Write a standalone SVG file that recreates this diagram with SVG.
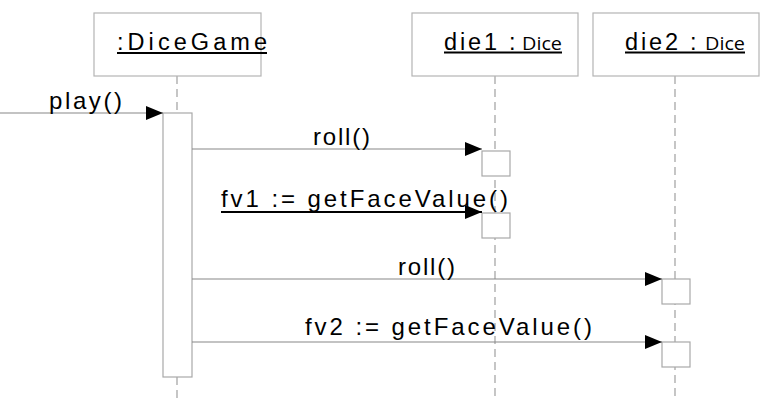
<svg xmlns="http://www.w3.org/2000/svg" width="772" height="400" viewBox="0 0 772 400">
<style>
.box{fill:#fff;stroke:#b4b4b4;stroke-width:1.2}
.act{fill:#fff;stroke:#a8a8a8;stroke-width:1.2}
.life{stroke:#a0a0a0;stroke-width:1.2;stroke-dasharray:8,5;fill:none}
.msg{stroke:#888;stroke-width:1.2;fill:none}
.t{font-family:"Liberation Sans",Arial,sans-serif;fill:#000}
.big{font-size:24px}
.small{font-family:"Open Sans","Noto Sans",sans-serif;font-size:19px;fill:#000}
.ul{stroke:#000;stroke-width:2}
</style>
<defs>
<marker id="arr" markerUnits="userSpaceOnUse" markerWidth="18" markerHeight="15" refX="17" refY="7" orient="auto">
<path d="M0,0 L17,7 L0,14 z" fill="#000"/>
</marker>
</defs>
<rect width="772" height="400" fill="#fff"/>
<g id="lifelines">
<line class="life" x1="177" y1="76" x2="177" y2="113"/>
<line class="life" x1="177" y1="377" x2="177" y2="400"/>
<line class="life" x1="495" y1="76" x2="495" y2="400"/>
<line class="life" x1="675" y1="76" x2="675" y2="400"/>
</g>
<g id="dicegame">
<rect class="box" x="94" y="13" width="167" height="63"/>
<text class="t" x="117" y="50" font-size="23.5" textLength="150" lengthAdjust="spacing">:DiceGame</text>
<line class="ul" x1="117" y1="53" x2="267" y2="53"/>
<rect class="act" x="163" y="113" width="29" height="264"/>
</g>
<g id="die1">
<rect class="box" x="412" y="13" width="166" height="63"/>
<text class="t" font-size="23.5" x="444" y="50" textLength="53" lengthAdjust="spacing">die1</text>
<text class="t" font-size="23.5" x="509" y="50">:</text>
<text class="small" x="522" y="50" textLength="40" lengthAdjust="spacingAndGlyphs">Dice</text>
<line class="ul" x1="444" y1="52.5" x2="562" y2="52.5"/>
<rect class="act" x="482" y="151" width="28" height="25"/>
<rect class="act" x="482" y="213" width="28" height="25"/>
</g>
<g id="die2">
<rect class="box" x="593" y="13" width="166" height="63"/>
<text class="t" font-size="23.5" x="625" y="50" textLength="53" lengthAdjust="spacing">die2</text>
<text class="t" font-size="23.5" x="690" y="50">:</text>
<text class="small" x="705" y="50" textLength="40" lengthAdjust="spacingAndGlyphs">Dice</text>
<line class="ul" x1="625" y1="52.5" x2="745" y2="52.5"/>
<rect class="act" x="662" y="279" width="28" height="25"/>
<rect class="act" x="662" y="342" width="28" height="25"/>
</g>
<g id="connectors">
<line class="msg" x1="0" y1="113" x2="163" y2="113" marker-end="url(#arr)"/>
<line class="msg" x1="192" y1="149" x2="482" y2="149" marker-end="url(#arr)"/>
<line stroke="#000" stroke-width="2" x1="221" y1="212" x2="482" y2="212" marker-end="url(#arr)"/>
<line class="msg" x1="192" y1="279" x2="662" y2="279" marker-end="url(#arr)"/>
<line class="msg" x1="192" y1="342" x2="662" y2="342" marker-end="url(#arr)"/>
<text class="t big" x="49" y="109" textLength="73" lengthAdjust="spacing">play()</text>
<text class="t big" x="313" y="145" textLength="57" lengthAdjust="spacing">roll()</text>
<text class="t big" x="221" y="207" textLength="287" lengthAdjust="spacing">fv1 := getFaceValue()</text>
<text class="t big" x="398" y="275" textLength="57" lengthAdjust="spacing">roll()</text>
<text class="t big" x="305" y="335" textLength="287" lengthAdjust="spacing">fv2 := getFaceValue()</text>
</g>
</svg>
